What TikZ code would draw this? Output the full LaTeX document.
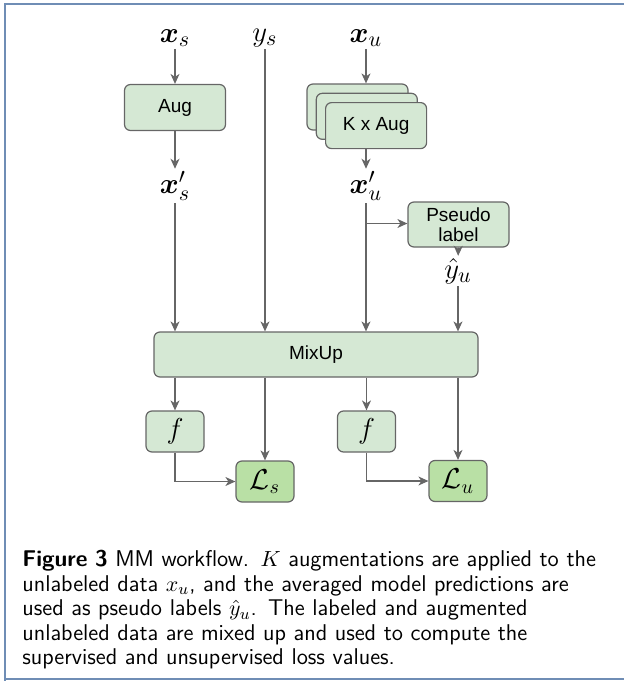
\documentclass[tikz,border=0pt]{standalone}
\usepackage{amsmath}
\usepackage{fontspec}
\newfontfamily\boxfont{Liberation Sans}
\usetikzlibrary{arrows.meta}

\definecolor{boxgreen}{HTML}{D5E8D4}
\definecolor{lossgreen}{HTML}{B9E0A5}
\definecolor{edgegrey}{HTML}{666666}
\definecolor{frameblue}{HTML}{6F8DB5}

\begin{document}
\begin{tikzpicture}[x=0.5pt,y=-0.5pt,
  block/.style={draw=edgegrey,fill=boxgreen,rounded corners=3pt,line width=0.6pt,
    minimum width=50.5pt,minimum height=23pt,inner sep=0pt,align=center,
    font=\boxfont\fontsize{9.5}{10}\selectfont},
  smallblock/.style={block,minimum width=29pt,minimum height=20.5pt,
    font=\fontsize{14}{16}\selectfont},
  lossblock/.style={smallblock,fill=lossgreen},
  var/.style={inner sep=1pt,font=\fontsize{15}{17}\selectfont},
  flow/.style={draw=edgegrey,line width=0.6pt,-{Stealth[length=5pt,width=4.5pt,inset=1.5pt]}}]
  \useasboundingbox (0,0) rectangle (624,681);
  % frame
  \draw [frameblue,line width=1pt] (5,681) -- (5,4) -- (624,4);
  \draw [frameblue,line width=1pt] (5,679) -- (624,679);

  % inputs
  \node[var] (xs) at (175,38) {$\boldsymbol{x}_s$};
  \node[var] (ys) at (265,38) {$y_s$};
  \node[var] (xu) at (366,38) {$\boldsymbol{x}_u$};

  % augmentation
  \node[block] (aug) at (175,107.5) {Aug};
  \foreach \k in {1,2,3}
    {
    \node[block] (kaug\k) at ({357.5 + 9.3*(\k-1)},{107 + 9.3*(\k-1)}) {\ifnum\k=3 K x Aug\fi};
    }
  \node[var] (xsp) at (175,186) {$\boldsymbol{x}'_s$};
  \node[var] (xup) at (366,186) {$\boldsymbol{x}'_u$};

  % pseudo labelling
  \node[block,minimum height=22.5pt] (pseudo) at (458.5,224.5) {Pseudo\\label};
  \node[var] (yhat) at (458,271) {$\hat{y}_u$};
  \coordinate (split) at (366,223.5);

  % mixing and losses
  \node[block,minimum width=162pt,minimum height=22.5pt] (mix) at (316,354.5) {MixUp};
  \node[smallblock] (f1) at (175,431.5) {$f$};
  \node[smallblock] (f2) at (366.5,431.5) {$f$};
  \node[lossblock] (ls) at (265,481.5) {$\mathcal{L}_s$};
  \node[lossblock] (lu) at (458,481) {$\mathcal{L}_u$};

  \draw[flow] (xs) -- (aug);
  \draw[flow] (aug) -- (xsp);
  \draw[flow] (xsp) -- (xsp |- mix.north);
  \draw[flow] (ys) -- (ys |- mix.north);
  \draw[flow] (xu) -- (xu |- kaug1.north);
  \draw[flow] (xup |- kaug3.south) -- (xup);
  \draw[flow] (xup) -- (xup |- mix.north);
  \draw[flow] (split) -- (split -| pseudo.west);
  \draw[flow] (pseudo) -- (yhat);
  \draw[flow] (yhat) -- (yhat |- mix.north);

  \draw[flow] (f1 |- mix.south) -- (f1);
  \draw[flow] (ls |- mix.south) -- (ls);
  \draw[flow] (f2 |- mix.south) -- (f2);
  \draw[flow] (lu |- mix.south) -- (lu);
  \draw[flow] (f1) |- (ls);
  \draw[flow] (f2) |- (lu);

  % caption
  \node[anchor=north west,inner sep=0pt,text width=310pt,align=left,
    font=\sffamily\fontsize{11.4}{12.25}\selectfont] (caption) at (22,550)
    {\textbf{Figure 3} MM workflow. $K$ augmentations are applied to the\\
     unlabeled data $x_u$, and the averaged model predictions are\\
     used as pseudo labels $\hat{y}_u$. The labeled and augmented\\
     unlabeled data are mixed up and used to compute the\\
     supervised and unsupervised loss values.};
\end{tikzpicture}
\end{document}
